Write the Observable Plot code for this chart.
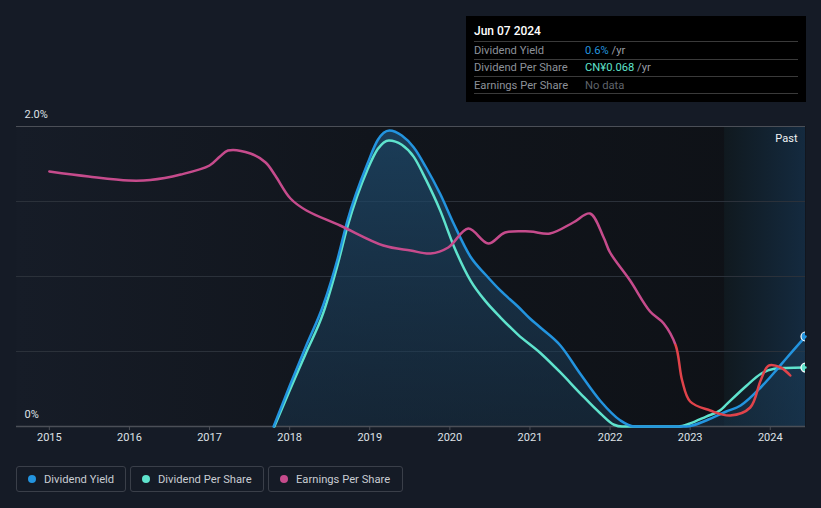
<!DOCTYPE html>
<html><head><meta charset="utf-8">
<script src="https://cdn.jsdelivr.net/npm/d3@7"></script>
<script src="https://cdn.jsdelivr.net/npm/@observablehq/plot@0.6"></script>
<style>
body{margin:0;background:#151b26;font-family:Roboto,"Noto Sans",sans-serif;}
#wrap{position:relative;width:821px;height:508px;overflow:hidden;background:#151b26;}
#chart{position:absolute;left:0;top:0;}
#chart g[aria-label="x-axis tick"]{stroke:#4b4f57;}
#tip{position:absolute;left:466px;top:16px;width:340px;height:86px;background:#000;}
#tip .ttl{position:absolute;left:8px;top:0;width:324px;height:25px;line-height:30px;color:#fff;font-size:12px;font-weight:500;border-bottom:1px solid #3a3a3a;}
#tip .row{position:absolute;left:8px;width:324px;height:16.5px;line-height:17px;font-size:11.2px;border-bottom:1px solid #3a3a3a;color:#8c9199;}
#tip .val{position:absolute;left:111px;top:0;color:#9a9ea5;}
#legend .btn{position:absolute;top:466px;height:24px;border:1px solid #3a3f49;border-radius:3px;box-sizing:content-box;}
#legend .dot{position:absolute;left:11px;top:8px;width:8px;height:8px;border-radius:50%;}
#legend .lab{position:absolute;left:27px;top:0;line-height:25px;font-size:11.2px;color:#c8ccd2;white-space:nowrap;}
</style></head><body>
<div id="wrap"><div id="chart"></div><div id="tip"></div><div id="legend"></div></div>
<script>
// ---- data ----
const yieldYears  = [2017.80,2018.0,2018.2,2018.42,2018.6,2018.72,2018.97,2019.1,2019.245,2019.4,2019.55,2019.7,2019.88,2020.05,2020.26,2020.45,2020.63,2020.85,2021.0,2021.13,2021.38,2021.63,2021.88,2022.13,2022.3,2022.95,2023.2,2023.45,2023.63,2023.88,2024.05,2024.21,2024.44];
const yieldValues = [0,0.27,0.53,0.81,1.12,1.37,1.75,1.91,1.973,1.94,1.86,1.73,1.55,1.35,1.13,1.01,0.907,0.80,0.72,0.66,0.54,0.35,0.17,0.04,0,0,0.04,0.10,0.14,0.26,0.36,0.46,0.60];
const dpsYears  = [2017.81,2018.0,2018.2,2018.42,2018.6,2018.72,2018.97,2019.1,2019.24,2019.4,2019.55,2019.7,2019.88,2020.05,2020.26,2020.45,2020.63,2020.85,2021.13,2021.38,2021.63,2021.88,2022.05,2022.15,2022.85,2023.0,2023.2,2023.38,2023.46,2023.7,2023.88,2024.05,2024.2,2024.44];
const dpsValues = [0,0.0415,0.084,0.131,0.187,0.230,0.296,0.320,0.330,0.325,0.311,0.285,0.249,0.208,0.168,0.144,0.126,0.106,0.0848,0.0623,0.038,0.015,0.002,0,0,0.0035,0.0115,0.019,0.026,0.0467,0.0606,0.0666,0.0675,0.068];
const epsYears  = [2015.0,2015.49,2015.99,2016.26,2016.64,2017.0,2017.13,2017.23,2017.51,2017.70,2017.82,2018.01,2018.21,2018.63,2019.17,2019.51,2019.76,2019.98,2020.23,2020.48,2020.69,2021.0,2021.25,2021.54,2021.75,2021.92,2022.0,2022.25,2022.5,2022.67,2022.82,2022.9,2023.0,2023.25,2023.5,2023.75,2023.88,2023.98,2024.13,2024.25];
const epsValues = [0.86,0.835,0.815,0.8175,0.845,0.89,0.935,0.965,0.95,0.905,0.84,0.725,0.665,0.59,0.49,0.465,0.45,0.48,0.575,0.50,0.555,0.56,0.55,0.605,0.65,0.53,0.455,0.315,0.16,0.10,-0.01,-0.185,-0.29,-0.335,-0.36,-0.32,-0.185,-0.11,-0.12,-0.16];
const tickYears = [2015,2016,2017,2018,2019,2020,2021,2022,2023,2024];
const yTickValues = [0,2];
const yTickLabels = ["0%","2.0%"];
const gridValues = [0.5,1,1.5];
const seriesNames = ["Dividend Yield","Dividend Per Share","Earnings Per Share"];
const seriesColors = ["#2394df","#5fe3cd","#c64b8c"];
const epsNegColor = "#e0434a";
const pastStart = 2023.43;
const tipTitle = "Jun 07 2024";
const tipValues = ["0.6%","CN¥0.068","No data"];
const tipUnits = [" /yr"," /yr",""];
const tipColors = ["#2394df","#5fe3cd","#5f636a"];

// ---- scaling of secondary series onto shared y ----
const X0 = 2014.59, X1 = 2024.44;
const DPS_TO_Y = 0.393 / 0.068;
const EPS_ZERO = 0.5533, EPS_SCALE = 1.3333;
const yieldData = yieldYears.map((t,i)=>({t, v: yieldValues[i]}));
const dpsData = dpsYears.map((t,i)=>({t, v: dpsValues[i]*DPS_TO_Y}));
const epsData = epsYears.map((t,i)=>({t, v: EPS_ZERO + epsValues[i]*EPS_SCALE}));
const ends = [{t: yieldYears[yieldYears.length-1], v: yieldValues[yieldValues.length-1], c: seriesColors[0]},
              {t: dpsYears[dpsYears.length-1], v: dpsValues[dpsValues.length-1]*DPS_TO_Y, c: seriesColors[1]}];

const chart = Plot.plot({
  width: 821, height: 455,
  marginTop: 126, marginBottom: 29, marginLeft: 16, marginRight: 16,
  style: {background: "transparent", color: "#dfe2e6", fontFamily: "Roboto, sans-serif", fontSize: "11px"},
  x: {domain: [X0, X1], ticks: tickYears, tickFormat: d => String(d), tickSize: 4, tickPadding: 3, label: null},
  y: {domain: [0, 2], axis: null},
  marks: [
    Plot.frame({fill: "url(#plotbg)", stroke: "none"}),
    Plot.rect([{x1: pastStart, x2: X1, y1: 0, y2: 2}], {x1: "x1", x2: "x2", y1: "y1", y2: "y2", fill: "url(#pastbg)"}),
    Plot.ruleY(gridValues, {stroke: "#2b313a", strokeWidth: 1}),
    Plot.ruleY([2], {stroke: "#4b4f57", strokeWidth: 1}),
    Plot.areaY(yieldData, {x: "t", y: "v", fill: "url(#areagrad)", curve: "monotone-x"}),
    Plot.ruleY([0], {stroke: "#4b4f57", strokeWidth: 1.5}),
    Plot.line(dpsData, {x: "t", y: "v", stroke: seriesColors[1], strokeWidth: 2.5, curve: "monotone-x"}),
    Plot.line(yieldData, {x: "t", y: "v", stroke: seriesColors[0], strokeWidth: 2.5, curve: "monotone-x"}),
    Plot.line(epsData, {x: "t", y: "v", stroke: "url(#epsgrad)", strokeWidth: 2.5, curve: "catmull-rom"}),
    Plot.dot(ends, {x: "t", y: "v", r: 4.5, fill: "c", stroke: "#fff", strokeWidth: 1.2, clip: true}),
    Plot.text(yTickValues, {x: () => X0, y: d => d, text: (d,i) => yTickLabels[i], dx: 8, dy: -12, textAnchor: "start", fill: "#dfe2e6", fontSize: 11}),
    Plot.text(["Past"], {x: () => X1, y: () => 2, text: d => d, dx: -8, dy: 12, textAnchor: "end", fill: "#f0f2f4", fontSize: 11})
  ]
});
document.getElementById("chart").appendChild(chart);

// gradients
const yScale = chart.scale("y");
const epsZeroPx = yScale.apply(EPS_ZERO);
const svg = d3.select(chart);
const defs = svg.insert("defs", ":first-child");
const g1 = defs.append("linearGradient").attr("id","plotbg").attr("x1",0).attr("x2",1).attr("y1",0).attr("y2",0);
g1.append("stop").attr("offset",0).attr("stop-color","#161c27");
g1.append("stop").attr("offset",0.45).attr("stop-color","#11151c");
g1.append("stop").attr("offset",1).attr("stop-color","#0e1116");
const g2 = defs.append("linearGradient").attr("id","pastbg").attr("x1",0).attr("x2",1).attr("y1",0).attr("y2",0);
g2.append("stop").attr("offset",0).attr("stop-color","#10191f");
g2.append("stop").attr("offset",1).attr("stop-color","#142a3f");
const g3 = defs.append("linearGradient").attr("id","areagrad").attr("x1",0).attr("x2",0).attr("y1",0).attr("y2",1);
g3.append("stop").attr("offset",0).attr("stop-color","#1e4a6c").attr("stop-opacity",0.75);
g3.append("stop").attr("offset",1).attr("stop-color","#1a3a55").attr("stop-opacity",0.45);
const g4 = defs.append("linearGradient").attr("id","epsgrad").attr("gradientUnits","userSpaceOnUse")
  .attr("x1",0).attr("x2",0).attr("y1",0).attr("y2",455);
const off = epsZeroPx/455;
g4.append("stop").attr("offset",off).attr("stop-color",seriesColors[2]);
g4.append("stop").attr("offset",off).attr("stop-color",epsNegColor);

// tooltip
const tip = document.getElementById("tip");
const ttl = document.createElement("div"); ttl.className="ttl"; ttl.textContent = tipTitle; tip.appendChild(ttl);
seriesNames.forEach((n,i)=>{
  const r = document.createElement("div"); r.className="row"; r.style.top = (26 + i*17.4) + "px";
  const l = document.createElement("span"); l.textContent = n; r.appendChild(l);
  const v = document.createElement("span"); v.className="val";
  const s = document.createElement("span"); s.style.color = tipColors[i]; s.textContent = tipValues[i];
  v.appendChild(s); v.appendChild(document.createTextNode(tipUnits[i]));
  r.appendChild(v); tip.appendChild(r);
});

// legend
const legend = document.getElementById("legend");
const btnLeft = [16,130,268], btnWidth = [108,132,133];
seriesNames.forEach((n,i)=>{
  const b = document.createElement("div"); b.className="btn";
  b.style.left = btnLeft[i]+"px"; b.style.width = btnWidth[i]+"px";
  const d = document.createElement("div"); d.className="dot"; d.style.background = seriesColors[i];
  const t = document.createElement("div"); t.className="lab"; t.textContent = n;
  b.appendChild(d); b.appendChild(t); legend.appendChild(b);
});
</script>
</body></html>
